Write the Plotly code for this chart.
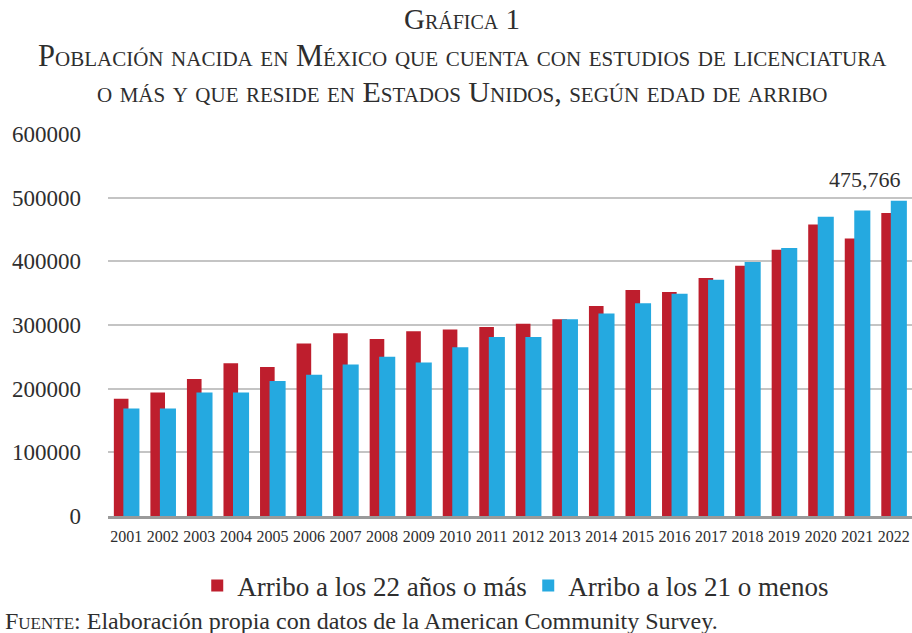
import plotly.graph_objects as go

years = [str(y) for y in range(2001, 2023)]
arribo_22_mas = [184000, 194000, 215000, 240000, 234000, 271000, 287000, 278000, 290000, 293000,
                 297000, 302000, 309000, 330000, 355000, 352000, 374000, 393000, 418000, 458000,
                 436000, 475766]
arribo_21_menos = [169000, 169000, 194000, 194000, 212000, 222000, 238000, 250000, 241000, 265000,
                   281000, 281000, 309000, 318000, 334000, 349000, 371000, 399000, 421000, 470000,
                   480000, 495000]
y_ticks = [0, 100000, 200000, 300000, 400000, 500000, 600000]
title_lines = ["Gráfica 1",
               "Población nacida en México que cuenta con estudios de licenciatura",
               "o más y que reside en Estados Unidos, según edad de arribo"]
series_names = ["Arribo a los 22 años o más", "Arribo a los 21 o menos"]
highlight_label = "475,766"
source_text = "<span style='font-variant:small-caps'>Fuente</span>: Elaboración propia con datos de la American Community Survey."

FONT = "Liberation Serif"
TXT = "#2e2e2e"
RED = "#BE1E2D"
BLUE = "#25A9E0"

fig = go.Figure()
fig.add_trace(go.Bar(x=years, y=arribo_22_mas, name=series_names[0], marker_color=RED,
                     offset=-0.34, width=0.40, marker_line_width=0))
fig.add_trace(go.Bar(x=years, y=arribo_21_menos, name=series_names[1], marker_color=BLUE,
                     offset=-0.08, width=0.44, marker_line_width=0))

annotations = []
for txt, yp, sz in zip(title_lines, [1.300, 1.205, 1.112], [29, 30.5, 30]):
    annotations.append(dict(text=txt, x=0.4403, y=yp, xref="paper", yref="paper",
                            xanchor="center", yanchor="middle", showarrow=False,
                            font=dict(family=FONT, size=sz, color=TXT, variant="small-caps")))
annotations.append(dict(text=highlight_label, x=len(years) - 1, y=arribo_22_mas[-1],
                        xref="x", yref="y",
                        xanchor="center", yanchor="middle", xshift=-29, yshift=34, showarrow=False,
                        font=dict(family=FONT, size=22, color=TXT)))
annotations.append(dict(text=source_text, x=-0.13, y=-0.276, xref="paper", yref="paper",
                        xanchor="left", yanchor="middle", showarrow=False,
                        font=dict(family=FONT, size=24, color=TXT)))

fig.update_layout(
    width=912, height=633,
    barmode="overlay",
    paper_bgcolor="white", plot_bgcolor="white",
    margin=dict(l=108, r=0, t=134, b=117, pad=0),
    font=dict(family=FONT, color=TXT),
    showlegend=True,
    legend=dict(orientation="h", x=0.111, y=-0.183, xanchor="left", yanchor="middle",
                font=dict(family=FONT, size=27, color=TXT), itemwidth=30,
                entrywidth=286, entrywidthmode="pixels",
                traceorder="normal", bgcolor="rgba(0,0,0,0)"),
    annotations=annotations,
    xaxis=dict(type="category", showgrid=False, showline=True, linecolor="#9A9A9A", linewidth=2.5,
               ticks="", ticklabelstandoff=4, tickfont=dict(family=FONT, size=16, color=TXT),
               range=[-0.5, 21.5], fixedrange=True),
    yaxis=dict(range=[0, 600000], tickvals=y_ticks, ticktext=[str(v) for v in y_ticks],
               showgrid=True, gridcolor="#C4C4C4", gridwidth=1.5, zeroline=False, showline=False,
               ticks="", ticklabelstandoff=26, tickfont=dict(family=FONT, size=23, color=TXT),
               fixedrange=True),
)

fig.write_html("out.html", config={"displayModeBar": False},
               post_script="document.body.style.margin='0';document.body.style.overflow='hidden';")
